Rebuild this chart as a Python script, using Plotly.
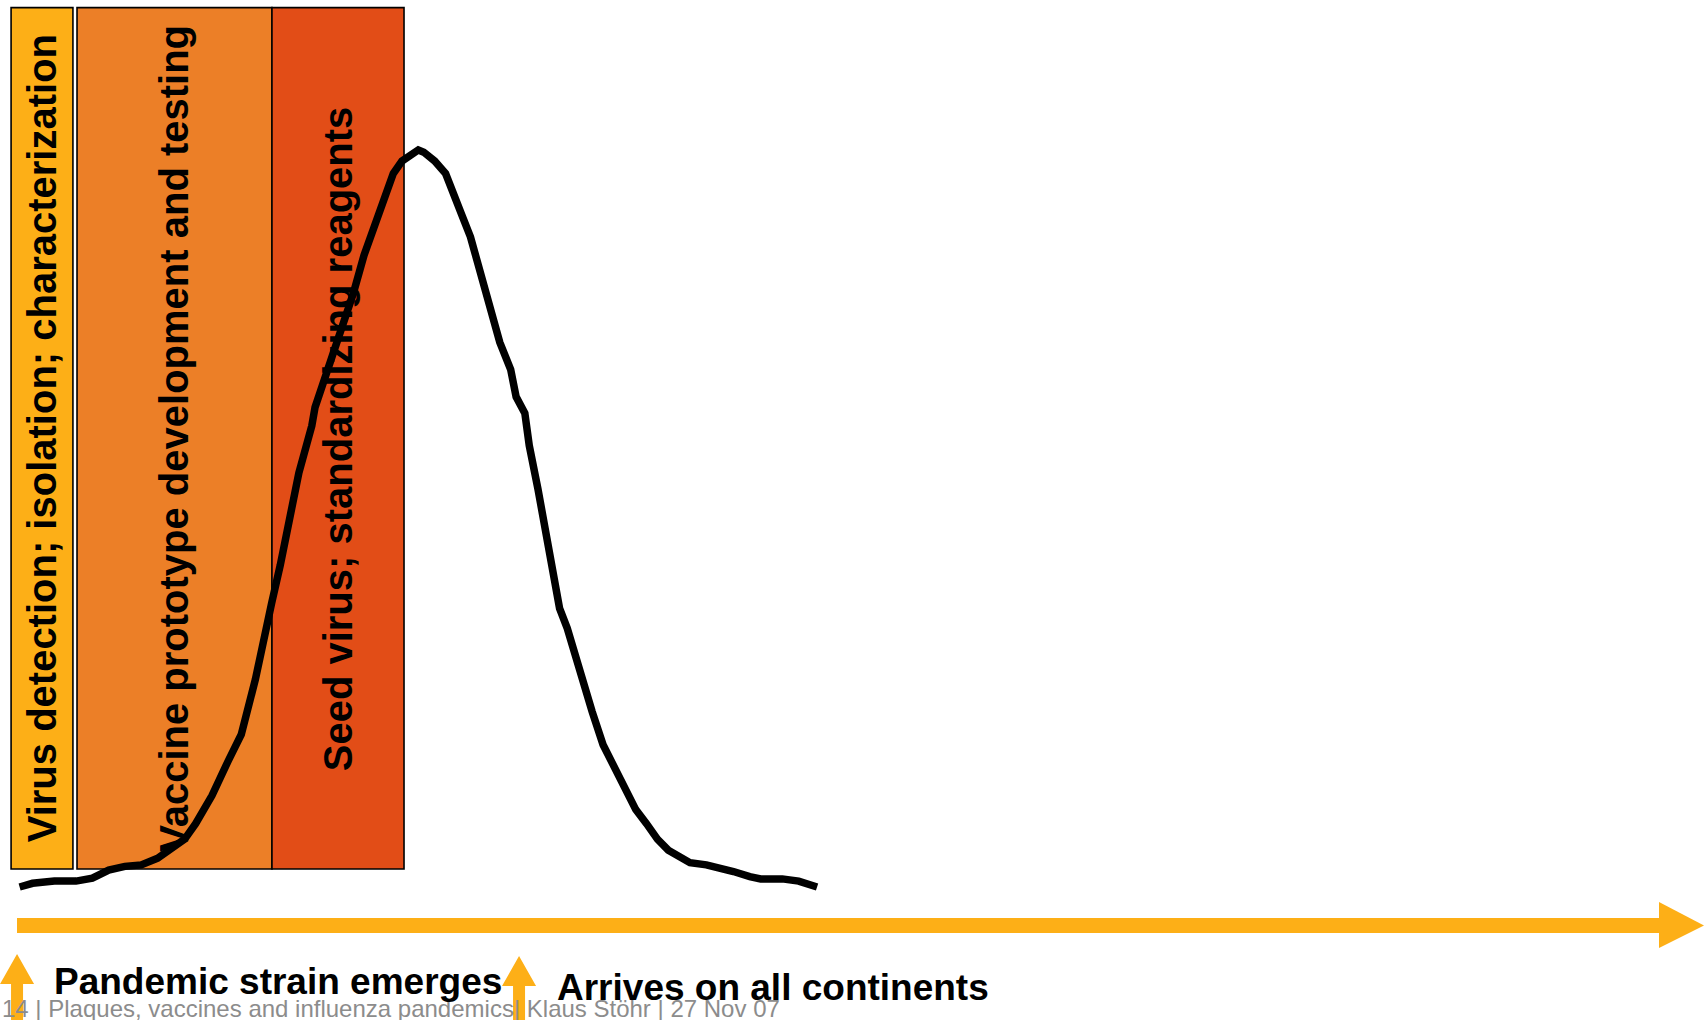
import plotly.graph_objects as go

# ---------------- data ----------------
# epidemic curve (time units 0-100 across the page, incidence 0-100 at peak)
curve_t = [1.15, 1.91, 3.19, 4.46, 5.42, 6.38, 7.33, 8.29, 9.25, 10.20, 10.84, 11.48,
           12.44, 13.39, 14.16, 14.99, 15.30, 15.94, 16.45, 16.90, 17.54, 18.30, 18.49,
           19.13, 19.90, 20.73, 21.36, 22.00, 22.45, 23.08, 23.59, 24.11, 24.55, 24.87,
           25.51, 26.15, 26.66, 27.10, 27.61, 28.06, 28.70, 29.33, 29.97, 30.29, 30.80,
           31.06, 31.57, 32.20, 32.84, 33.29, 33.80, 34.12, 34.75, 35.39, 36.03, 36.67,
           37.31, 37.94, 38.58, 39.22, 39.86, 40.49, 41.45, 42.09, 43.04, 44.00, 44.64,
           45.91, 46.87, 47.95]
curve_cases = [0.0, 0.5, 0.8, 0.8, 1.2, 2.3, 2.8, 3.0, 3.9, 5.3, 6.5, 8.6,
               12.4, 17.1, 20.7, 28.2, 31.9, 38.5, 43.7, 48.8, 56.2, 62.6, 65.1,
               69.5, 74.6, 80.5, 85.7, 90.1, 93.1, 96.8, 98.5, 99.4, 100.0, 99.7,
               98.5, 96.8, 94.1, 91.2, 88.2, 84.2, 79.1, 73.9, 70.2, 66.5, 64.3,
               59.9, 54.0, 45.9, 37.8, 35.1, 31.1, 28.2, 23.8, 19.3, 16.4, 13.0,
               10.5, 8.6, 6.5, 5.0, 4.0, 3.3, 3.0, 2.7, 2.1, 1.4, 1.1,
               1.1, 0.8, 0.0]

phase_labels = ["Virus detection; isolation; characterization",
                "Vaccine prototype development and testing",
                "Seed virus; standardizing reagents"]
phase_start = [0.65, 4.52, 15.96]
phase_end = [4.28, 15.96, 23.71]

event_labels = ["Pandemic strain emerges", "Arrives on all continents"]
event_t = [1.0, 30.46]

footer_text = "14 | Plaques, vaccines and influenza pandemics| Klaus Stöhr | 27 Nov 07"

# ---------------- style ----------------
W, H = 1704, 1020
phase_colors = ["#FDAF17", "#EC7F27", "#E24D17"]
arrow_color = "#FDAF17"
FONT = "Liberation Sans, Arial, Helvetica, sans-serif"

X_PER_PX = 100 / W          # x units per pixel
Y0_PX, Y_PER_PX = 887, 100 / 737


def ux(p):
    return p * X_PER_PX


def uy(p):
    return (Y0_PX - p) * Y_PER_PX


box_top, box_bottom = uy(7.6), uy(869)

fig = go.Figure()

shapes = []
annotations = []

# phase boxes
for lab, s, e, c in zip(phase_labels, phase_start, phase_end, phase_colors):
    shapes.append(dict(type="rect", xref="x", yref="y", x0=s, x1=e, y0=box_bottom, y1=box_top,
                       fillcolor=c, line=dict(color="black", width=1.6), layer="below"))
    annotations.append(dict(x=(s + e) / 2, y=(box_top + box_bottom) / 2, xref="x", yref="y",
                            text=lab, textangle=-90, showarrow=False,
                            font=dict(family=FONT, size=40, color="black", weight="bold"),
                            xanchor="center", yanchor="middle"))

# horizontal time arrow
shaft_y0, shaft_y1 = uy(918), uy(933)
head_x = ux(1659)
shapes.append(dict(type="rect", xref="x", yref="y", x0=ux(17), x1=head_x + 0.05,
                   y0=shaft_y1, y1=shaft_y0, fillcolor=arrow_color, line=dict(width=0), layer="above"))
shapes.append(dict(type="path", xref="x", yref="y",
                   path=f"M {head_x},{uy(902)} L {ux(1704)},{uy(925.5)} L {head_x},{uy(948)} Z",
                   fillcolor=arrow_color, line=dict(width=0), layer="above"))

# footer (beneath arrows)
annotations.append(dict(x=ux(0), y=uy(1008), xref="x", yref="y", text=footer_text, showarrow=False,
                        xanchor="left", yanchor="middle",
                        font=dict(family=FONT, size=24, color="#8C8C8C")))

# event up-arrows
for t, tip_px in zip(event_t, [954, 956]):
    hw, sw = ux(17), ux(6)
    tip, base, bottom = uy(tip_px), uy(tip_px + 30), uy(1020)
    shapes.append(dict(type="path", xref="x", yref="y",
                       path=(f"M {t - sw},{bottom} L {t - sw},{base} L {t - hw},{base} L {t},{tip} "
                             f"L {t + hw},{base} L {t + sw},{base} L {t + sw},{bottom} Z"),
                       fillcolor=arrow_color, line=dict(width=0), layer="above"))

# event labels
label_left_px = [52, 555]
label_y_px = [981, 987]
for lab, lx, ly in zip(event_labels, label_left_px, label_y_px):
    annotations.append(dict(x=ux(lx), y=uy(ly), xref="x", yref="y", text=lab, showarrow=False,
                            xanchor="left", yanchor="middle",
                            font=dict(family=FONT, size=37, color="black", weight="bold")))

# epidemic curve
fig.add_trace(go.Scatter(x=curve_t, y=curve_cases, mode="lines",
                         line=dict(color="black", width=7.5, shape="linear"),
                         hoverinfo="skip", showlegend=False))

fig.update_layout(
    width=W, height=H,
    margin=dict(l=0, r=0, t=0, b=0),
    paper_bgcolor="white", plot_bgcolor="white",
    xaxis=dict(range=[0, 100], visible=False, fixedrange=True),
    yaxis=dict(range=[uy(H), uy(0)], visible=False, fixedrange=True),
    shapes=shapes,
    annotations=annotations,
    showlegend=False,
)

fig.write_html("out.html", config=dict(displayModeBar=False),
               post_script="document.body.style.margin='0';document.body.style.overflow='hidden';")
